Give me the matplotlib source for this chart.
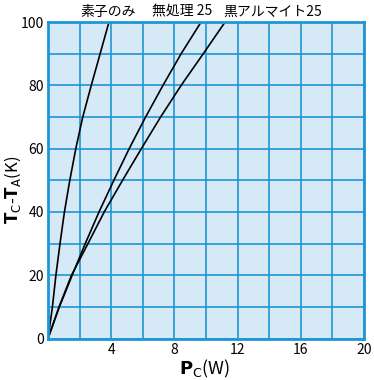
import matplotlib
matplotlib.use("Agg")
import matplotlib.pyplot as plt

plt.rcParams['font.family'] = ['Noto Sans CJK JP', 'DejaVu Sans']

# temperature rise steps (K) and power (W)
dT = [0, 10, 20, 30, 40, 50, 60, 70, 80, 90, 100]
p_element = [0, 0.28, 0.5, 0.76, 1.04, 1.38, 1.76, 2.2, 2.74, 3.3, 3.86]
p_untreated = [0, 0.72, 1.53, 2.36, 3.23, 4.17, 5.14, 6.18, 7.28, 8.43, 9.69]
p_black = [0, 0.70, 1.49, 2.53, 3.56, 4.72, 5.91, 7.13, 8.43, 9.83, 11.21]

curve_labels = ['素子のみ', '無処理 25', '黒アルマイト25']
label_x = [3.8, 8.5, 14.2]

x_ticks = [4, 8, 12, 16, 20]
y_ticks = [0, 20, 40, 60, 80, 100]

blue = '#1e96d6'
fill = '#d5eaf6'

fig = plt.figure(figsize=(3.74, 3.80), dpi=100)
ax = fig.add_axes([48 / 374, 41.5 / 380, 316 / 374, 316.5 / 380])
ax.set_facecolor(fill)

for p in (p_element, p_untreated, p_black):
    ax.plot(p, dT, color='black', lw=1.2, solid_joinstyle='round')

ax.set_xlim(0, 20)
ax.set_ylim(0, 100)
ax.set_xticks(range(0, 21, 2))
ax.set_yticks(range(0, 101, 10))
ax.grid(True, color=blue, lw=1.2)
ax.set_axisbelow(True)
ax.tick_params(length=0, labelsize=10, pad=3)
ax.set_xticklabels([str(v) if v in x_ticks else '' for v in range(0, 21, 2)])
ax.set_yticklabels([str(v) if v in y_ticks else '' for v in range(0, 101, 10)])
for s in ax.spines.values():
    s.set_color(blue)
    s.set_linewidth(2)

for txt, lx in zip(curve_labels, label_x):
    ax.text(lx, 103.2, txt, ha='center', va='center', fontsize=10, clip_on=False)

# axis titles placed by hand so they sit where the original has them
fig.text(0.548, 0.03, r'$\mathbf{P}_{\mathrm{C}}$(W)', fontsize=13,
         ha='center', va='center')
fig.text(0.035, 0.5, r'$\mathbf{T}_{\mathrm{C}}$-$\mathbf{T}_{\mathrm{A}}$(K)', fontsize=12,
         ha='center', va='center', rotation=90)

fig.savefig('out.png', dpi=100)
